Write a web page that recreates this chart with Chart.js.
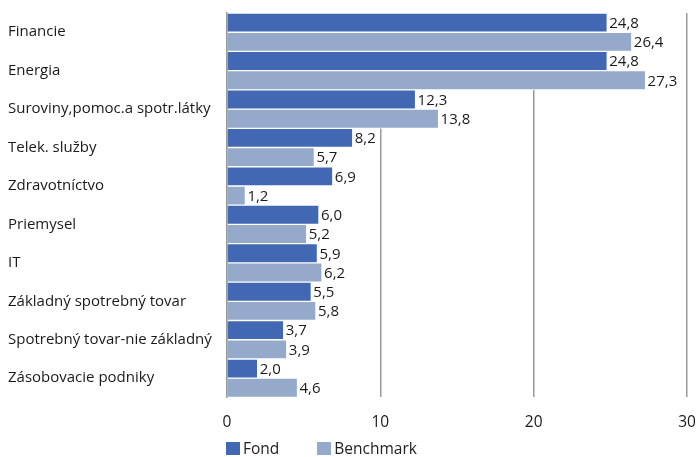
<!DOCTYPE html>
<html>
<head>
<meta charset="utf-8">
<script src="https://cdn.jsdelivr.net/npm/chart.js@4"></script>
<style>
  body { margin: 0; background: #fff; }
  .wrap { position: relative; width: 699px; height: 457px; }
  #legend { position: absolute; left: 226px; top: 437px; display: flex; font: 15.5px "Open Sans", sans-serif; color: #222; }
  #legend .item { display: flex; align-items: center; margin-right: 38px; }
  #legend .box { width: 14px; height: 13px; margin-right: 3px; }
</style>
</head>
<body>
<div class="wrap">
  <canvas id="sectorChart" width="699" height="457"></canvas>
  <div id="legend"></div>
</div>
<script>
const categories = ['Financie', 'Energia', 'Suroviny,pomoc.a spotr.látky', 'Telek. služby', 'Zdravotníctvo',
  'Priemysel', 'IT', 'Základný spotrebný tovar', 'Spotrebný tovar-nie základný', 'Zásobovacie podniky'];
const fond = [24.8, 24.8, 12.3, 8.2, 6.9, 6.0, 5.9, 5.5, 3.7, 2.0];
const benchmark = [26.4, 27.3, 13.8, 5.7, 1.2, 5.2, 6.2, 5.8, 3.9, 4.6];
const xTicks = [0, 10, 20, 30];

const fondColor = '#4268b3';
const benchColor = '#95aacb';

// cisla za koncom stlpcov
const valueLabels = {
    id: 'valueLabels',
    afterDatasetsDraw(chart) {
        const ctx = chart.ctx;
        ctx.save();
        ctx.font = '15px "Open Sans", sans-serif';
        ctx.fillStyle = '#1a1a1a';
        ctx.textAlign = 'left';
        ctx.textBaseline = 'middle';
        chart.data.datasets.forEach((ds, i) => {
            chart.getDatasetMeta(i).data.forEach((bar, j) => {
                ctx.fillText(ds.data[j].toFixed(1).replace('.', ','), bar.x + 2, bar.y + 1);
            });
        });
        ctx.restore();
    }
};

const ctx = document.getElementById('sectorChart').getContext('2d');
window.sectorChart = new Chart(ctx, {
    type: 'bar',
    data: {
        labels: categories,
        datasets: [{
            label: 'Fond',
            data: fond,
            backgroundColor: fondColor,
            borderColor: '#fff',
            borderWidth: 1,
            categoryPercentage: 1,
            barPercentage: 1
        }, {
            label: 'Benchmark',
            data: benchmark,
            backgroundColor: benchColor,
            borderColor: '#fff',
            borderWidth: 1,
            categoryPercentage: 1,
            barPercentage: 1
        }]
    },
    options: {
        indexAxis: 'y',
        responsive: false,
        animation: false,
        layout: { padding: { left: 8, right: 12, top: 10, bottom: 9 } },
        plugins: {
            legend: { display: false },
            tooltip: { enabled: false }
        },
        scales: {
            x: {
                min: 0,
                max: 30,
                afterBuildTicks: (axis) => { axis.ticks = xTicks.map(v => ({ value: v })); },
                afterFit: (axis) => { axis.paddingRight = 0; },
                grid: { color: '#999', lineWidth: 1.5, drawTicks: false },
                border: { display: false },
                ticks: {
                    padding: 16,
                    color: '#1a1a1a',
                    font: { family: 'Open Sans', size: 15.5 }
                }
            },
            y: {
                afterFit: (axis) => { axis.width = 219; },
                grid: { display: false, drawTicks: false },
                border: { display: true, color: '#999', width: 1.5 },
                ticks: {
                    crossAlign: 'far',
                    padding: 4,
                    color: '#1a1a1a',
                    font: { family: 'Open Sans', size: 15 }
                }
            }
        }
    },
    plugins: [valueLabels]
});

// legenda pod grafom
const legend = document.getElementById('legend');
window.sectorChart.data.datasets.forEach(ds => {
    const item = document.createElement('div');
    item.className = 'item';
    item.innerHTML = '<span class="box" style="background:' + ds.backgroundColor + '"></span>' + ds.label;
    legend.appendChild(item);
});
</script>
</body>
</html>
